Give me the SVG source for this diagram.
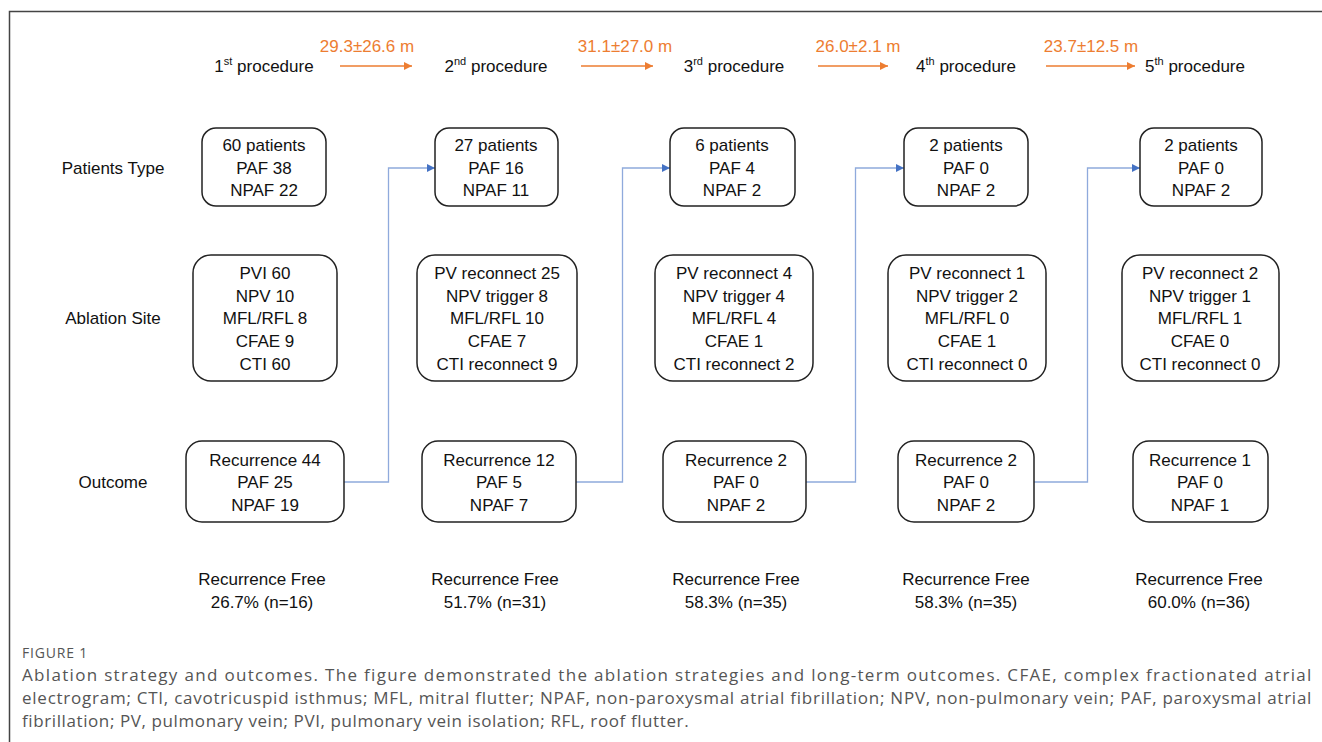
<svg xmlns="http://www.w3.org/2000/svg" width="1322" height="742" viewBox="0 0 1322 742">
<style>
.t{font-family:"Liberation Sans",Arial,sans-serif;font-size:17px;fill:#111;text-anchor:middle}
.lbl{font-family:"Liberation Sans",Arial,sans-serif;font-size:17px;fill:#111;text-anchor:middle}
.or{font-family:"Liberation Sans",Arial,sans-serif;font-size:17px;fill:#ED7D31;text-anchor:middle}
.sup{font-size:11px}
.box{fill:#fff;stroke:#222;stroke-width:1.5}
.cap{font-family:"Open Sans","Liberation Sans",sans-serif;font-size:17px;fill:#555;letter-spacing:0.6px}
.conn{fill:none;stroke:#8FAADC;stroke-width:1.3}
.oar{fill:none;stroke:#ED7D31;stroke-width:1.3}
</style>
<defs>
<marker id="ab" viewBox="0 0 10 10" refX="10" refY="5" markerWidth="8" markerHeight="8" markerUnits="userSpaceOnUse" orient="auto"><path d="M0,0 L10,5 L0,10 z" fill="#4472C4"/></marker>
<marker id="ao" viewBox="0 0 10 10" refX="10" refY="5" markerWidth="8" markerHeight="8" markerUnits="userSpaceOnUse" orient="auto"><path d="M0,0 L10,5 L0,10 z" fill="#ED7D31"/></marker>
</defs>
<rect width="1322" height="742" fill="#fff"/>
<path d="M9.5,742 V11.5 H1322" fill="none" stroke="#444" stroke-width="1.5"/>

<g id="header">
<text class="t" x="264" y="72">1<tspan class="sup" dy="-7">st</tspan><tspan dy="7"> procedure</tspan></text>
<text class="t" x="496" y="72">2<tspan class="sup" dy="-7">nd</tspan><tspan dy="7"> procedure</tspan></text>
<text class="t" x="734" y="72">3<tspan class="sup" dy="-7">rd</tspan><tspan dy="7"> procedure</tspan></text>
<text class="t" x="966" y="72">4<tspan class="sup" dy="-7">th</tspan><tspan dy="7"> procedure</tspan></text>
<text class="t" x="1195" y="72">5<tspan class="sup" dy="-7">th</tspan><tspan dy="7"> procedure</tspan></text>
<text class="or" x="367" y="52">29.3±26.6 m</text>
<text class="or" x="625" y="52">31.1±27.0 m</text>
<text class="or" x="858" y="52">26.0±2.1 m</text>
<text class="or" x="1091" y="52">23.7±12.5 m</text>
<path class="oar" d="M340,66 H412" marker-end="url(#ao)"/>
<path class="oar" d="M581,66 H653" marker-end="url(#ao)"/>
<path class="oar" d="M818,66 H888" marker-end="url(#ao)"/>
<path class="oar" d="M1046,66 H1135" marker-end="url(#ao)"/>
</g>

<g id="rowlabels">
<text class="lbl" x="113" y="174">Patients Type</text>
<text class="lbl" x="113" y="324">Ablation Site</text>
<text class="lbl" x="113" y="488">Outcome</text>
</g>

<g id="connectors">
<path class="conn" d="M344,482 H388.5 V168 H435" marker-end="url(#ab)"/>
<path class="conn" d="M576,482 H622.5 V168 H670" marker-end="url(#ab)"/>
<path class="conn" d="M806,482 H855.5 V168 H904" marker-end="url(#ab)"/>
<path class="conn" d="M1034,482 H1087.5 V168 H1140" marker-end="url(#ab)"/>
</g>

<g id="pt1"><rect class="box" x="202" y="128" width="124" height="78" rx="14"/>
<text class="t" x="264" y="151">60 patients</text><text class="t" x="264" y="174">PAF 38</text><text class="t" x="264" y="196">NPAF 22</text></g>
<g id="pt2"><rect class="box" x="435" y="128" width="123" height="78" rx="14"/>
<text class="t" x="496" y="151">27 patients</text><text class="t" x="496" y="174">PAF 16</text><text class="t" x="496" y="196">NPAF 11</text></g>
<g id="pt3"><rect class="box" x="670" y="128" width="125" height="78" rx="14"/>
<text class="t" x="732" y="151">6 patients</text><text class="t" x="732" y="174">PAF 4</text><text class="t" x="732" y="196">NPAF 2</text></g>
<g id="pt4"><rect class="box" x="904" y="128" width="124" height="78" rx="14"/>
<text class="t" x="966" y="151">2 patients</text><text class="t" x="966" y="174">PAF 0</text><text class="t" x="966" y="196">NPAF 2</text></g>
<g id="pt5"><rect class="box" x="1140" y="128" width="122" height="78" rx="14"/>
<text class="t" x="1201" y="151">2 patients</text><text class="t" x="1201" y="174">PAF 0</text><text class="t" x="1201" y="196">NPAF 2</text></g>

<g id="ab1"><rect class="box" x="193" y="255" width="144" height="126" rx="18"/>
<text class="t" x="265" y="279">PVI 60</text><text class="t" x="265" y="302">NPV 10</text><text class="t" x="265" y="324">MFL/RFL 8</text><text class="t" x="265" y="347">CFAE 9</text><text class="t" x="265" y="370">CTI 60</text></g>
<g id="ab2"><rect class="box" x="417" y="255" width="160" height="126" rx="18"/>
<text class="t" x="497" y="279">PV reconnect 25</text><text class="t" x="497" y="302">NPV trigger 8</text><text class="t" x="497" y="324">MFL/RFL 10</text><text class="t" x="497" y="347">CFAE 7</text><text class="t" x="497" y="370">CTI reconnect 9</text></g>
<g id="ab3"><rect class="box" x="655" y="255" width="158" height="126" rx="18"/>
<text class="t" x="734" y="279">PV reconnect 4</text><text class="t" x="734" y="302">NPV trigger 4</text><text class="t" x="734" y="324">MFL/RFL 4</text><text class="t" x="734" y="347">CFAE 1</text><text class="t" x="734" y="370">CTI reconnect 2</text></g>
<g id="ab4"><rect class="box" x="888" y="255" width="158" height="126" rx="18"/>
<text class="t" x="967" y="279">PV reconnect 1</text><text class="t" x="967" y="302">NPV trigger 2</text><text class="t" x="967" y="324">MFL/RFL 0</text><text class="t" x="967" y="347">CFAE 1</text><text class="t" x="967" y="370">CTI reconnect 0</text></g>
<g id="ab5"><rect class="box" x="1122" y="255" width="157" height="126" rx="18"/>
<text class="t" x="1200" y="279">PV reconnect 2</text><text class="t" x="1200" y="302">NPV trigger 1</text><text class="t" x="1200" y="324">MFL/RFL 1</text><text class="t" x="1200" y="347">CFAE 0</text><text class="t" x="1200" y="370">CTI reconnect 0</text></g>

<g id="oc1"><rect class="box" x="186" y="441" width="158" height="81" rx="16"/>
<text class="t" x="265" y="466">Recurrence 44</text><text class="t" x="265" y="488">PAF 25</text><text class="t" x="265" y="511">NPAF 19</text></g>
<g id="oc2"><rect class="box" x="422" y="441" width="154" height="81" rx="16"/>
<text class="t" x="499" y="466">Recurrence 12</text><text class="t" x="499" y="488">PAF 5</text><text class="t" x="499" y="511">NPAF 7</text></g>
<g id="oc3"><rect class="box" x="663" y="441" width="143" height="81" rx="16"/>
<text class="t" x="736" y="466">Recurrence 2</text><text class="t" x="736" y="488">PAF 0</text><text class="t" x="736" y="511">NPAF 2</text></g>
<g id="oc4"><rect class="box" x="898" y="441" width="136" height="81" rx="16"/>
<text class="t" x="966" y="466">Recurrence 2</text><text class="t" x="966" y="488">PAF 0</text><text class="t" x="966" y="511">NPAF 2</text></g>
<g id="oc5"><rect class="box" x="1133" y="441" width="135" height="81" rx="16"/>
<text class="t" x="1200" y="466">Recurrence 1</text><text class="t" x="1200" y="488">PAF 0</text><text class="t" x="1200" y="511">NPAF 1</text></g>

<g id="free">
<text class="t" x="262" y="585">Recurrence Free</text><text class="t" x="262" y="608">26.7% (n=16)</text>
<text class="t" x="495" y="585">Recurrence Free</text><text class="t" x="495" y="608">51.7% (n=31)</text>
<text class="t" x="736" y="585">Recurrence Free</text><text class="t" x="736" y="608">58.3% (n=35)</text>
<text class="t" x="966" y="585">Recurrence Free</text><text class="t" x="966" y="608">58.3% (n=35)</text>
<text class="t" x="1199" y="585">Recurrence Free</text><text class="t" x="1199" y="608">60.0% (n=36)</text>
</g>

<g id="caption">
<text class="cap" x="22" y="658" style="font-size:14px;letter-spacing:0.8px">FIGURE 1</text>
<text class="cap" x="22" y="681" textLength="1290" lengthAdjust="spacing">Ablation strategy and outcomes. The figure demonstrated the ablation strategies and long-term outcomes. CFAE, complex fractionated atrial</text>
<text class="cap" x="22" y="704" textLength="1290" lengthAdjust="spacing">electrogram; CTI, cavotricuspid isthmus; MFL, mitral flutter; NPAF, non-paroxysmal atrial fibrillation; NPV, non-pulmonary vein; PAF, paroxysmal atrial</text>
<text class="cap" x="22" y="727">fibrillation; PV, pulmonary vein; PVI, pulmonary vein isolation; RFL, roof flutter.</text>
</g>
</svg>
